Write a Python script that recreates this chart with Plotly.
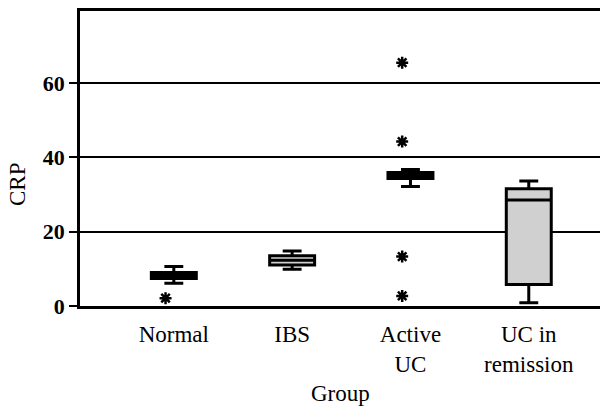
import plotly.graph_objects as go

groups = ["Normal", "IBS", "Active<br>UC", "UC in<br>remission"]
q1 = [7.4, 11.0, 34.3, 5.8]
median = [8.2, 12.3, 35.1, 28.5]
q3 = [9.0, 13.5, 35.9, 31.5]
lower_whisker = [6.1, 9.9, 32.1, 0.9]
upper_whisker = [10.6, 14.8, 36.7, 33.6]

outlier_group = [1, 3, 3, 3, 3]
outlier_crp = [2.1, 65.4, 44.2, 13.3, 2.7]

y_ticks = [0, 20, 40, 60]

positions = list(range(1, len(groups) + 1))
FONT = "Liberation Serif, Times New Roman, serif"

W, H = 601, 408
ML, MR, MT, MB = 80, 1, 11, 102

fig = go.Figure()
fig.add_trace(go.Box(
    x=positions,
    q1=q1, median=median, q3=q3,
    lowerfence=lower_whisker, upperfence=upper_whisker,
    width=0.38,
    whiskerwidth=0.42,
    fillcolor="#d0d0d0",
    line=dict(color="black", width=3),
    boxpoints=False,
    showlegend=False,
))
fig.add_trace(go.Scatter(
    x=[p - 0.07 for p in outlier_group],
    y=outlier_crp,
    mode="markers",
    marker=dict(symbol="asterisk-open", size=10, color="black",
                line=dict(color="black", width=2.5)),
    showlegend=False,
))

plot_h = H - MT - MB
plot_w = W - ML - MR

fig.update_layout(
    width=W, height=H,
    margin=dict(l=ML, r=MR, t=MT, b=MB),
    plot_bgcolor="white", paper_bgcolor="white",
    font=dict(family=FONT, color="black", size=23),
    xaxis=dict(
        range=[0.207, 4.602],
        tickvals=positions, ticktext=groups,
        ticks="", showgrid=False, zeroline=False,
        showline=True, linecolor="black", linewidth=2.5, mirror=True,
        tickfont=dict(size=23),
        ticklabelstandoff=6,
        automargin=False,
    ),
    yaxis=dict(
        range=[0, 79.3],
        tickvals=y_ticks,
        ticks="outside", ticklen=8, tickwidth=2, tickcolor="black",
        showgrid=True, gridcolor="black", gridwidth=1.5,
        zeroline=False,
        showline=True, linecolor="black", linewidth=2.5,
        tickfont=dict(size=22, family=FONT, weight="bold"),
        automargin=False,
    ),
    annotations=[
        dict(text="CRP", textangle=-90,
             x=(17 - ML) / plot_w, y=(H - MB - 185) / plot_h,
             xref="paper", yref="paper", xanchor="center", yanchor="middle",
             showarrow=False, font=dict(size=23)),
        dict(text="Group", x=0.5, y=(H - MB - 393) / plot_h,
             xref="paper", yref="paper", xanchor="center", yanchor="middle",
             showarrow=False, font=dict(size=23)),
    ],
)

fig.write_html("out.html", config={"displayModeBar": False},
               post_script="document.body.style.margin='0';document.body.style.overflow='hidden';")
